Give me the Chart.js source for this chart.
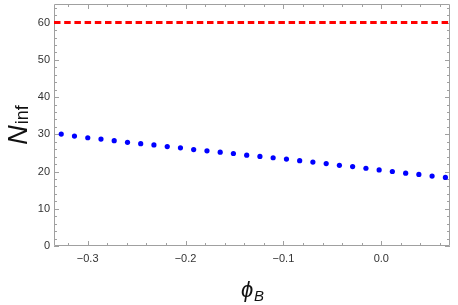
<!DOCTYPE html>
<html>
<head>
<meta charset="utf-8">
<script src="https://cdn.jsdelivr.net/npm/chart.js@4"></script>
<style>
  html, body { margin: 0; padding: 0; background: #fff; }
  #wrap { width: 458px; height: 305px; }
</style>
</head>
<body>
<div id="wrap"><canvas id="nChart" width="458" height="305"></canvas></div>
<script>
// values
const phiB = [-0.327, -0.3135, -0.2999, -0.2864, -0.2729, -0.2593, -0.2458, -0.2323, -0.2187, -0.2052,
  -0.1917, -0.1781, -0.1646, -0.1511, -0.1375, -0.124, -0.1105, -0.0969, -0.0834, -0.0699,
  -0.0563, -0.0428, -0.0293, -0.0157, -0.0022, 0.0113, 0.0249, 0.0384, 0.0519, 0.0655];
const nInf = [30.05, 29.53, 29.08, 28.73, 28.28, 27.84, 27.49, 27.15, 26.70, 26.36,
  25.91, 25.56, 25.19, 24.85, 24.40, 24.05, 23.71, 23.34, 22.92, 22.55,
  22.13, 21.68, 21.33, 20.88, 20.43, 20.01, 19.56, 19.22, 18.77, 18.42];
const nLimit = 60;

const xRange = [-0.3344, 0.0702];
const yRange = [0, 65];
const xLabels = [-0.3, -0.2, -0.1, 0.0];
const yLabels = [0, 10, 20, 30, 40, 50, 60];
const xMinorStep = 0.02;
const yMinorStep = 2;

const frameColor = '#a0a0a0';
const labelFont = '"Liberation Sans", Arial, sans-serif';

function stepTicks(min, max, step) {
  const out = [];
  for (let k = Math.ceil(min / step - 1e-9); k * step <= max + 1e-9; k++) {
    out.push({ value: Math.round(k * step * 1000) / 1000 });
  }
  return out;
}

function isLabel(v, list) {
  return list.some(l => Math.abs(l - v) < 1e-6);
}

// frame with inward ticks on all four sides
const framePlugin = {
  id: 'frame',
  beforeDatasetsDraw(chart) {
    const ctx = chart.ctx;
    const a = chart.chartArea;
    const xs = chart.scales.x, ys = chart.scales.y;
    ctx.save();
    ctx.strokeStyle = frameColor;
    ctx.lineWidth = 1;
    ctx.beginPath();
    ctx.rect(a.left + 0.5, a.top + 0.5, a.right - a.left - 1, a.bottom - a.top - 1);
    ctx.stroke();
    ctx.beginPath();
    xs.ticks.forEach(t => {
      const px = Math.round(xs.getPixelForValue(t.value)) + 0.5;
      const len = isLabel(t.value, xLabels) ? 5 : 3;
      ctx.moveTo(px, a.bottom); ctx.lineTo(px, a.bottom - len);
      ctx.moveTo(px, a.top); ctx.lineTo(px, a.top + len);
    });
    ys.ticks.forEach(t => {
      const py = Math.round(ys.getPixelForValue(t.value)) + 0.5;
      const len = isLabel(t.value, yLabels) ? 5 : 3;
      ctx.moveTo(a.left, py); ctx.lineTo(a.left + len, py);
      ctx.moveTo(a.right, py); ctx.lineTo(a.right - len, py);
    });
    ctx.stroke();
    ctx.restore();
  },
  afterDraw(chart) {
    const ctx = chart.ctx;
    const a = chart.chartArea;
    ctx.save();
    ctx.fillStyle = '#111';
    ctx.textBaseline = 'alphabetic';

    // y title: N_inf, rotated
    ctx.font = 'italic 27px ' + labelFont;
    const nW = ctx.measureText('N').width;
    ctx.font = '18px ' + labelFont;
    const subW = ctx.measureText('inf').width;
    const total = nW + 1 + subW;
    const cy = (a.top + a.bottom) / 2;
    ctx.translate(27, cy + total / 2);
    ctx.rotate(-Math.PI / 2);
    ctx.font = 'italic 27px ' + labelFont;
    ctx.textAlign = 'left';
    ctx.fillText('N', 0, 0);
    ctx.font = '18px ' + labelFont;
    ctx.fillText('inf', nW + 1, 1);
    ctx.setTransform(1, 0, 0, 1, 0, 0);

    // x title: phi_B
    ctx.font = 'italic 22px ' + labelFont;
    const pW = ctx.measureText('\u03D5').width;
    ctx.font = 'italic 15px ' + labelFont;
    const bW = ctx.measureText('B').width;
    const cx = (a.left + a.right) / 2;
    const x0 = cx - (pW + bW) / 2;
    ctx.font = 'italic 22px ' + labelFont;
    ctx.fillText('\u03D5', x0, 297);
    ctx.font = 'italic 15px ' + labelFont;
    ctx.fillText('B', x0 + pW + 1, 300.5);
    ctx.restore();
  }
};

new Chart(document.getElementById('nChart').getContext('2d'), {
  type: 'scatter',
  data: {
    datasets: [{
      label: 'N_inf',
      data: phiB.map((x, i) => ({ x: x, y: nInf[i] })),
      backgroundColor: '#0000ff',
      borderWidth: 0,
      pointRadius: 2.6,
      order: 1
    }, {
      label: 'limit',
      type: 'line',
      data: xRange.map(x => ({ x: x, y: nLimit })),
      borderColor: '#ff0000',
      borderWidth: 3,
      borderDash: [6.5, 3.7],
      pointRadius: 0,
      fill: false,
      order: 0
    }]
  },
  options: {
    responsive: false,
    animation: false,
    devicePixelRatio: 1,
    layout: { padding: { top: 0, right: 8, left: 0, bottom: 0 } },
    plugins: { legend: { display: false }, tooltip: { enabled: false } },
    scales: {
      x: {
        type: 'linear',
        min: xRange[0],
        max: xRange[1],
        grid: { display: false, drawTicks: false },
        border: { display: false },
        afterBuildTicks: s => { s.ticks = stepTicks(xRange[0], xRange[1], xMinorStep); },
        afterFit: s => { s.height = 59; s.paddingLeft = 0; s.paddingRight = 0; },
        ticks: {
          autoSkip: false,
          maxRotation: 0,
          padding: 6,
          color: '#333',
          font: { family: labelFont, size: 11 },
          callback: v => isLabel(v, xLabels) ? v.toFixed(1).replace('-', '\u2212') : ''
        }
      },
      y: {
        type: 'linear',
        min: yRange[0],
        max: yRange[1],
        grid: { display: false, drawTicks: false },
        border: { display: false },
        afterBuildTicks: s => { s.ticks = stepTicks(yRange[0], yRange[1], yMinorStep); },
        afterFit: s => { s.width = 54; s.paddingTop = 0; s.paddingBottom = 0; },
        ticks: {
          autoSkip: false,
          padding: 4,
          color: '#333',
          font: { family: labelFont, size: 11 },
          callback: v => isLabel(v, yLabels) ? String(v) : ''
        }
      }
    }
  },
  plugins: [framePlugin]
});
</script>
</body>
</html>
